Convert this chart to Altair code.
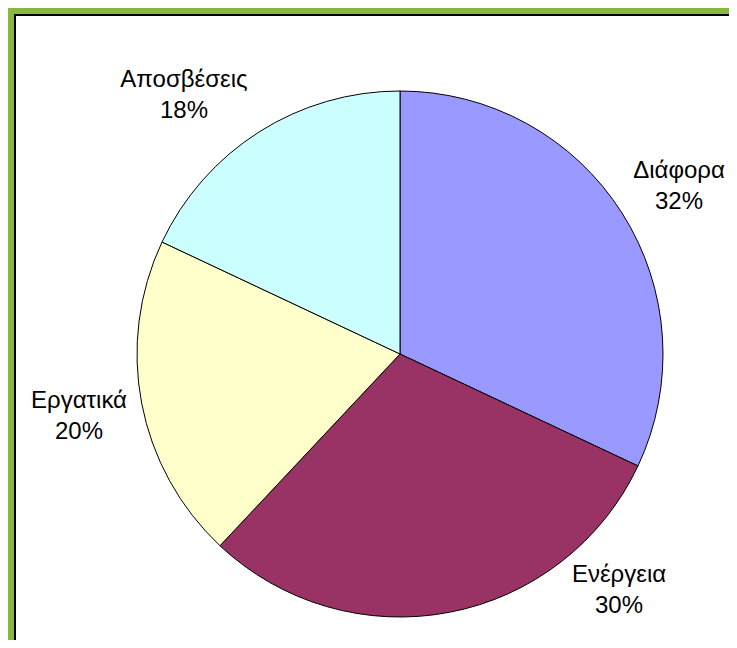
import altair as alt
import pandas as pd

# data
categories = ["Διάφορα", "Ενέργεια", "Εργατικά", "Αποσβέσεις"]
values = [32, 30, 20, 18]
colors = ["#9999FF", "#993366", "#FFFFCC", "#CCFFFF"]

# layout of labels (view pixels)
label_x = [665, 605, 65, 170]
label_y = [164, 568, 394, 73]

W, H = 715, 626
CX, CY, R = 386, 340, 263

df = pd.DataFrame({
    "cat": categories,
    "val": values,
    "idx": list(range(len(categories))),
    "lx": label_x,
    "ly": label_y,
})

base = alt.Chart(df)

pie = base.mark_arc(radius=R, stroke="black", strokeWidth=1).encode(
    theta=alt.Theta("val:Q", stack=True),
    order=alt.Order("idx:Q"),
    color=alt.Color("cat:N", scale=alt.Scale(domain=categories, range=colors), legend=None),
    x=alt.value(CX),
    y=alt.value(CY),
)

labels = base.transform_calculate(
    label="datum.cat + '\\n' + datum.val + '%'"
).mark_text(
    align="center", baseline="alphabetic", lineBreak="\n", lineHeight=31,
    font="Liberation Sans", fontSize=24, color="black"
).encode(
    x=alt.X("lx:Q", scale=None, axis=None),
    y=alt.Y("ly:Q", scale=None, axis=None),
    text="label:N",
)

left_line = alt.Chart(df).mark_rule(color="black", strokeWidth=2).encode(
    x=alt.value(1), y=alt.value(0), y2=alt.value(H)
)
top_line = alt.Chart(df).mark_rule(color="black", strokeWidth=2).encode(
    x=alt.value(0), x2=alt.value(W), y=alt.value(1)
)

chart = alt.layer(pie, labels, left_line, top_line).properties(
    width=W, height=H,
    background="#88B83E",
    padding={"left": 6, "top": 6, "right": 0, "bottom": 0},
    autosize=alt.AutoSizeParams(type="none"),
).configure_view(fill="white", strokeWidth=0)

chart.save("out.html", embed_options={"renderer": "svg", "actions": False})
